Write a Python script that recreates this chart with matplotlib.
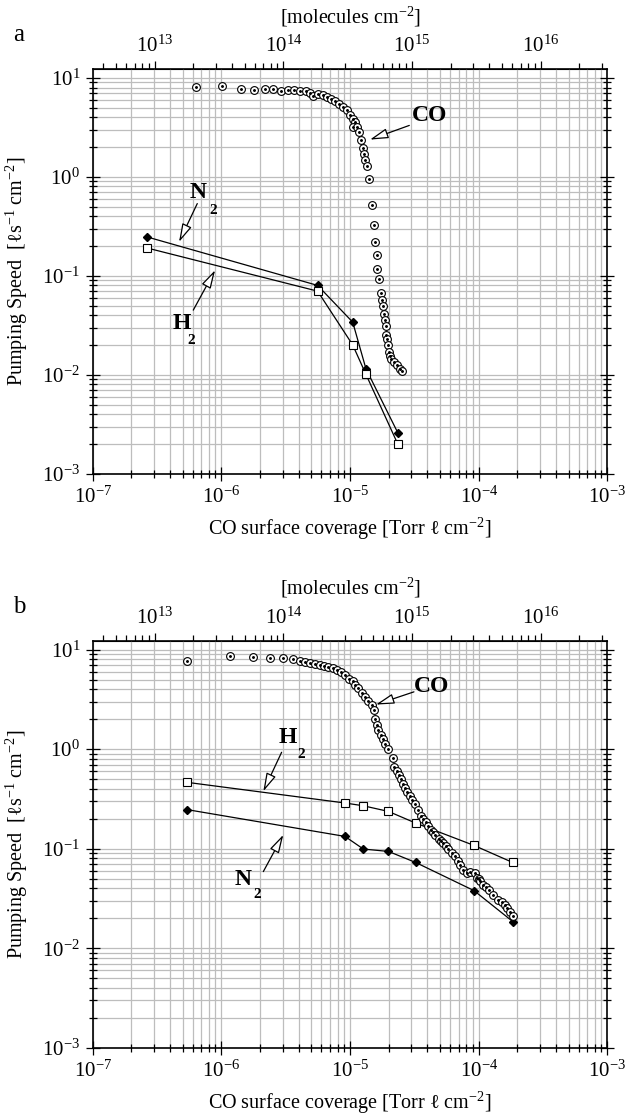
import numpy as np
import matplotlib
matplotlib.use("Agg")
import matplotlib.pyplot as plt
from matplotlib.ticker import LogLocator, NullFormatter, FixedLocator

plt.rcParams["font.family"] = ["Liberation Serif", "DejaVu Serif"]
plt.rcParams["mathtext.fontset"] = "custom"
plt.rcParams["mathtext.rm"] = "Liberation Serif"
plt.rcParams["mathtext.it"] = "Liberation Serif:italic"
plt.rcParams["mathtext.bf"] = "Liberation Serif:bold"
plt.rcParams["axes.unicode_minus"] = False

# Torr l -> molecules conversion used for the top axis
TORR_L_TO_MOLECULES = 3.3e19

# ---- panel a ----
co_a_x = [6.38e-7, 1.02e-6, 1.42e-6, 1.78e-6, 2.17e-6, 2.53e-6, 2.91e-6, 3.31e-6,
          3.69e-6, 4.09e-6, 4.53e-6, 4.89e-6, 5.19e-6, 5.61e-6, 6.14e-6, 6.67e-6,
          7.16e-6, 7.64e-6, 8.26e-6, 8.87e-6, 9.42e-6, 1.0e-5, 1.05e-5, 1.094e-5,
          1.05e-5, 1.14e-5, 1.17e-5, 1.22e-5, 1.256e-5, 1.285e-5, 1.315e-5, 1.35e-5,
          1.41e-5, 1.475e-5, 1.54e-5, 1.57e-5, 1.61e-5, 1.63e-5, 1.69e-5, 1.73e-5,
          1.77e-5, 1.82e-5, 1.85e-5, 1.88e-5, 1.9e-5, 1.92e-5, 1.95e-5, 1.98e-5,
          2.0e-5, 2.05e-5, 2.1e-5, 2.2e-5, 2.3e-5, 2.45e-5, 2.55e-5]
co_a_y = [8.07, 8.2, 7.78, 7.6, 7.78, 7.78, 7.36, 7.48,
          7.48, 7.36, 7.31, 7.03, 6.55, 6.82, 6.66, 6.4,
          6.17, 5.79, 5.49, 5.07, 4.7, 4.25, 3.87, 3.58,
          3.19, 3.19, 2.84, 2.34, 1.97, 1.72, 1.49, 1.28,
          0.945, 0.516, 0.33, 0.22, 0.164, 0.117, 0.092, 0.067,
          0.057, 0.049, 0.041, 0.036, 0.031, 0.025, 0.023, 0.020,
          0.017, 0.0155, 0.0145, 0.0135, 0.0125, 0.0115, 0.011]

gas_a_x = [2.65e-7, 5.6e-6, 1.05e-5, 1.33e-5, 2.35e-5]
n2_a_y = [0.247, 0.080, 0.034, 0.0115, 0.0026]
h2_a_y = [0.191, 0.070, 0.020, 0.0101, 0.0020]

# ---- panel b ----
co_b_x = [5.43e-7, 1.17e-6, 1.77e-6, 2.38e-6, 3.0e-6, 3.63e-6, 4.09e-6, 4.47e-6,
          4.89e-6, 5.35e-6, 5.85e-6, 6.31e-6, 6.78e-6, 7.41e-6, 7.88e-6, 8.51e-6,
          9.14e-6, 9.88e-6, 1.05e-5, 1.09e-5, 1.16e-5, 1.23e-5, 1.31e-5, 1.39e-5,
          1.48e-5, 1.53e-5, 1.57e-5, 1.61e-5, 1.66e-5, 1.74e-5, 1.82e-5, 1.87e-5,
          1.99e-5, 2.15e-5, 2.21e-5, 2.31e-5, 2.4e-5, 2.48e-5, 2.6e-5, 2.68e-5,
          2.79e-5, 2.93e-5, 3.05e-5, 3.2e-5, 3.35e-5, 3.56e-5, 3.7e-5, 3.9e-5,
          4.05e-5, 4.24e-5, 4.4e-5, 4.58e-5, 4.94e-5, 5.1e-5, 5.31e-5, 5.55e-5,
          5.81e-5, 6.17e-5, 6.55e-5, 6.95e-5, 7.2e-5, 7.6e-5, 8.07e-5, 8.57e-5,
          9.37e-5, 9.66e-5, 1.0e-4, 1.03e-4, 1.09e-4, 1.15e-4, 1.21e-4, 1.3e-4,
          1.42e-4, 1.51e-4, 1.6e-4, 1.67e-4, 1.75e-4, 1.84e-4]
co_b_y = [7.75, 8.7, 8.37, 8.25, 8.25, 8.1, 7.75, 7.52,
          7.35, 7.18, 6.95, 6.79, 6.7, 6.5, 6.29, 5.97,
          5.52, 5.07, 4.8, 4.45, 4.12, 3.67, 3.35, 3.02,
          2.76, 2.5, 2.01, 1.76, 1.57, 1.4, 1.25, 1.13,
          1.0, 0.816, 0.656, 0.598, 0.554, 0.5, 0.45, 0.407,
          0.368, 0.336, 0.31, 0.283, 0.245, 0.211, 0.197, 0.184,
          0.17, 0.155, 0.146, 0.138, 0.126, 0.12, 0.114, 0.107,
          0.1, 0.0906, 0.0838, 0.0745, 0.068, 0.0615, 0.057, 0.059,
          0.057, 0.0508, 0.05, 0.047, 0.0435, 0.041, 0.0381, 0.034,
          0.0307, 0.0295, 0.027, 0.0254, 0.023, 0.0212]

gas_b_x = [5.43e-7, 9.14e-6, 1.27e-5, 1.99e-5, 3.24e-5, 9.2e-5, 1.84e-4]
h2_b_y = [0.464, 0.288, 0.27, 0.237, 0.181, 0.108, 0.0728]
n2_b_y = [0.247, 0.133, 0.0993, 0.094, 0.0728, 0.038, 0.0186]

top_ticks = [1e13, 1e14, 1e15, 1e16]

GRID = "#bdbdbd"


def setup_axes(ax):
    ax.set_xscale("log")
    ax.set_yscale("log")
    ax.set_xlim(1e-7, 1e-3)
    ax.set_ylim(1e-3, 12.2)
    for axis in (ax.xaxis, ax.yaxis):
        axis.set_major_locator(LogLocator(base=10, numticks=20))
        axis.set_minor_locator(LogLocator(base=10, subs=np.arange(2, 10), numticks=100))
        axis.set_minor_formatter(NullFormatter())
    ax.set_axisbelow(True)
    ax.grid(which="both", color=GRID, lw=0.9)
    for sp in ax.spines.values():
        sp.set_linewidth(1.2)
    ax.tick_params(which="both", direction="inout", top=False, right=True,
                   width=0.9, labelsize=15)
    ax.tick_params(which="major", length=10, pad=4)
    ax.tick_params(which="minor", length=6)

    sec = ax.secondary_xaxis("top", functions=(lambda x: x * TORR_L_TO_MOLECULES,
                                               lambda x: x / TORR_L_TO_MOLECULES))
    sec.xaxis.set_major_locator(FixedLocator(top_ticks))
    sec.xaxis.set_minor_locator(LogLocator(base=10, subs=np.arange(2, 10), numticks=100))
    sec.xaxis.set_minor_formatter(NullFormatter())
    sec.tick_params(which="both", direction="out", width=0.9, labelsize=15)
    sec.tick_params(which="major", length=6, pad=3)
    sec.tick_params(which="minor", length=4)
    sec.set_xlabel("[molecules cm$^{-2}$]", fontsize=14.5, labelpad=9)

    ax.set_xlabel("CO surface coverage [Torr \u2113 cm$^{-2}$]", fontsize=14.5)
    ax.set_ylabel("Pumping Speed  [\u2113s$^{-1}$ cm$^{-2}$]", fontsize=14.5)
    ax.xaxis.set_label_coords(0.5, -0.103)
    ax.yaxis.set_label_coords(-0.122, 0.5)


def draw_co(ax, x, y):
    ax.plot(x, y, ls="none", marker="o", ms=5.6, mfc="white", mec="black", mew=0.8, zorder=3)
    ax.plot(x, y, ls="none", marker=".", ms=2.2, color="black", zorder=4)


def draw_gas(ax, x, n2, h2):
    ax.plot(x, n2, color="black", lw=0.9, marker="D", ms=4.5, mfc="black", mec="black", zorder=2)
    ax.plot(x, h2, color="black", lw=0.9, marker="s", ms=6, mfc="white", mec="black", mew=0.8, zorder=2)


def arrow(ax, tip, start):
    ax.annotate("", xy=tip, xytext=start,
                arrowprops=dict(arrowstyle="-|>,head_length=0.8,head_width=0.22",
                                fc="white", ec="black", lw=0.9,
                                shrinkA=0, shrinkB=0, mutation_scale=14))


def species(ax, letter, pos_letter, pos_sub):
    ax.text(*pos_letter, letter, fontsize=17, fontweight="bold", ha="center", va="center")
    ax.text(*pos_sub, "2", fontsize=11, fontweight="bold", ha="center", va="center")


fig = plt.figure(figsize=(6.25, 11.17), dpi=100)
ax_a = fig.add_axes([0.1483, 0.5759, 0.8234, 0.3620])
ax_b = fig.add_axes([0.1483, 0.0618, 0.8234, 0.3644])

# panel a
setup_axes(ax_a)
draw_gas(ax_a, gas_a_x, n2_a_y, h2_a_y)
draw_co(ax_a, co_a_x, co_a_y)
ax_a.text(4.19e-5, 4.18, "CO", fontsize=17, fontweight="bold", ha="center", va="center")
arrow(ax_a, (1.43e-5, 2.38), (2.89e-5, 3.31))
species(ax_a, "N", (6.63e-7, 0.70), (8.57e-7, 0.46))
arrow(ax_a, (4.69e-7, 0.22), (6.5e-7, 0.537))
species(ax_a, "H", (4.92e-7, 0.033), (5.78e-7, 0.022))
arrow(ax_a, (8.94e-7, 0.114), (6.05e-7, 0.045))

# panel b
setup_axes(ax_b)
draw_gas(ax_b, gas_b_x, n2_b_y, h2_b_y)
draw_co(ax_b, co_b_x, co_b_y)
ax_b.text(4.32e-5, 4.22, "CO", fontsize=17, fontweight="bold", ha="center", va="center")
arrow(ax_b, (1.59e-5, 2.8), (3.14e-5, 3.76))
species(ax_b, "H", (3.31e-6, 1.3), (4.14e-6, 0.88))
arrow(ax_b, (2.12e-6, 0.377), (2.94e-6, 0.93))
species(ax_b, "N", (1.47e-6, 0.0488), (1.9e-6, 0.0345))
arrow(ax_b, (3.03e-6, 0.138), (2.12e-6, 0.059))

fig.text(19 / 625, 1 - 35 / 1117, "a", fontsize=18, ha="center", va="center")
fig.text(19 / 625, 1 - 607 / 1117, "b", fontsize=18, ha="center", va="center")

fig.savefig("out.png", dpi=100)
